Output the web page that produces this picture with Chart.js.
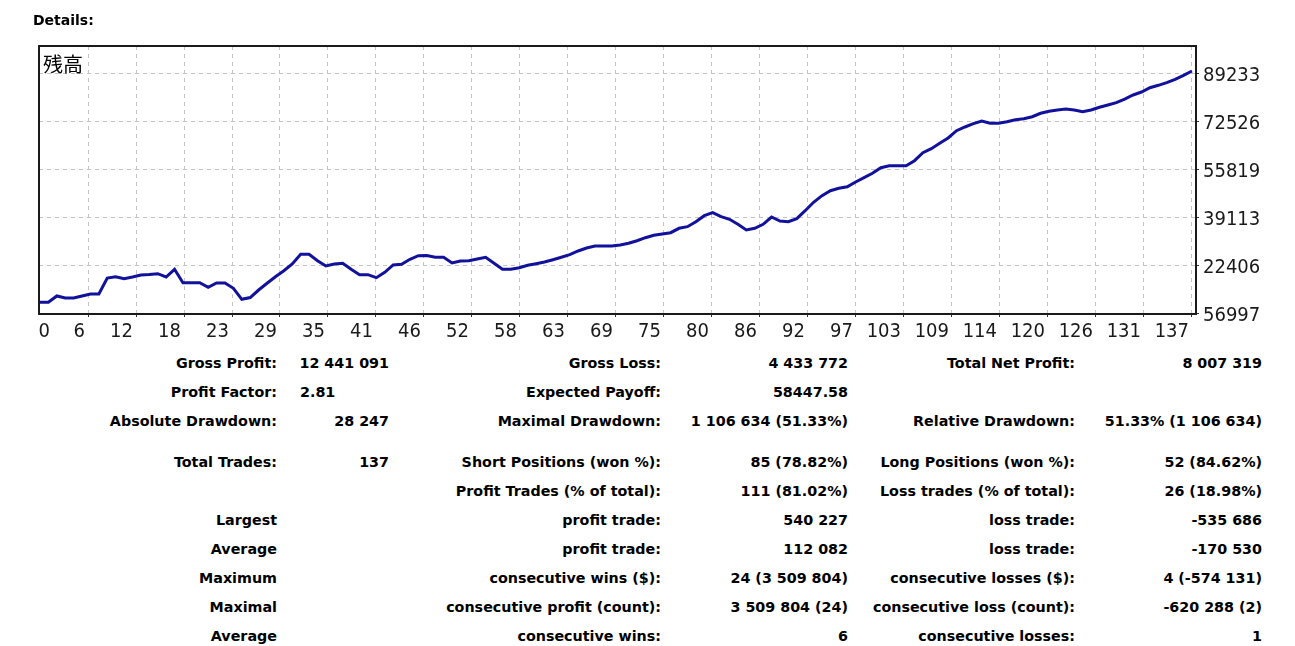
<!DOCTYPE html>
<html>
<head>
<meta charset="utf-8">
<title>Details</title>
<script src="https://cdn.jsdelivr.net/npm/chart.js@4.4.1/dist/chart.umd.min.js"></script>
<style>
  html, body { margin: 0; padding: 0; background: #fff; }
  body {
    width: 1295px; height: 646px; position: relative; overflow: hidden;
    font-family: 'DejaVu Sans', sans-serif;
    font-weight: bold; font-size: 14.3px; color: #000;
  }
  #chartBox { position: absolute; left: 0; top: 0; width: 1295px; height: 345px; }
  #title { position: absolute; left: 33px; top: 10px; line-height: 20px; font-size: 14px; }
  .cell { position: absolute; line-height: 20px; white-space: nowrap; }
</style>
</head>
<body>
<div id="chartBox"><canvas id="balanceChart"></canvas></div>
<div id="title">Details:</div>
<div id="stats"></div>

<script>
// Balance curve data
const seriesName = '残高';
const xLabels = ['0', '6', '12', '18', '23', '29', '35', '41', '46', '52', '58', '63', '69',
    '75', '80', '86', '92', '97', '103', '109', '114', '120', '126', '131', '137'];
const yTickValues = [569970, 2240670, 3911370, 5581970, 7252670, 8923370];
const yLabels = ['56997', '22406', '39113', '55819', '72526', '89233'];
const balance = [
    942000, 942000, 1162000, 1092000, 1092000, 1162000, 1231000, 1231000, 1788000, 1833000,
    1764000, 1823000, 1893000, 1910000, 1938000, 1823000, 2091000, 1625000, 1625000, 1625000,
    1464000, 1614000, 1614000, 1430000, 1047000, 1109000, 1370000, 1604000, 1833000, 2042000,
    2275000, 2613000, 2613000, 2390000, 2206000, 2275000, 2300000, 2091000, 1903000, 1903000,
    1799000, 1987000, 2241000, 2265000, 2439000, 2564000, 2571000, 2509000, 2509000, 2310000,
    2380000, 2390000, 2450000, 2509000, 2300000, 2091000, 2091000, 2147000, 2230000, 2286000,
    2345000, 2425000, 2509000, 2599000, 2728000, 2832000, 2902000, 2902000, 2902000, 2937000,
    2996000, 3086000, 3191000, 3274000, 3320000, 3365000, 3518000, 3574000, 3748000, 3957000,
    4061000, 3922000, 3831000, 3657000, 3459000, 3518000, 3657000, 3911000, 3772000, 3748000,
    3852000, 4131000, 4423000, 4653000, 4827000, 4910000, 4966000, 5130000, 5279000, 5432000,
    5627000, 5697000, 5697000, 5697000, 5871000, 6149000, 6289000, 6477000, 6661000, 6915000,
    7044000, 7159000, 7253000, 7173000, 7173000, 7228000, 7298000, 7333000, 7402000, 7521000,
    7590000, 7636000, 7670000, 7636000, 7577000, 7636000, 7730000, 7810000, 7890000, 8018000,
    8158000, 8262000, 8412000, 8495000, 8586000, 8704000, 8843000, 8993000
];
const lastTrade = 137;

// Report table text
const statRowsY = [363, 392, 421, 462, 491, 520, 549, 578, 607, 636];
const statColsRight = [277, 389, 661, 848, 1075, 1262];
const statRows = [
    ['Gross Profit:', '12 441 091', 'Gross Loss:', '4 433 772', 'Total Net Profit:', '8 007 319'],
    ['Profit Factor:', '2.81', 'Expected Payoff:', '58447.58', '', ''],
    ['Absolute Drawdown:', '28 247', 'Maximal Drawdown:', '1 106 634 (51.33%)', 'Relative Drawdown:', '51.33% (1 106 634)'],
    ['Total Trades:', '137', 'Short Positions (won %):', '85 (78.82%)', 'Long Positions (won %):', '52 (84.62%)'],
    ['', '', 'Profit Trades (% of total):', '111 (81.02%)', 'Loss trades (% of total):', '26 (18.98%)'],
    ['Largest', '', 'profit trade:', '540 227', 'loss trade:', '-535 686'],
    ['Average', '', 'profit trade:', '112 082', 'loss trade:', '-170 530'],
    ['Maximum', '', 'consecutive wins ($):', '24 (3 509 804)', 'consecutive losses ($):', '4 (-574 131)'],
    ['Maximal', '', 'consecutive profit (count):', '3 509 804 (24)', 'consecutive loss (count):', '-620 288 (2)'],
    ['Average', '', 'consecutive wins:', '6', 'consecutive losses:', '1']
];
const leftAlignedCells = { '1-1': 300 };

const axisFont = { family: "'DejaVu Sans Condensed', 'DejaVu Sans', sans-serif", size: 20 };
const gridGray = '#c4c4c4';

// Frame round the plot and the series caption in its corner
const frameAndCaption = {
    id: 'frameAndCaption',
    afterDraw(chart) {
        const { ctx, chartArea: a } = chart;
        ctx.save();
        ctx.strokeStyle = '#1a1a1a';
        ctx.lineWidth = 2;
        ctx.strokeRect(a.left, a.top, a.right - a.left, a.bottom - a.top);
        ctx.fillStyle = '#000';
        ctx.font = '20px "Noto Sans CJK JP"';
        ctx.textBaseline = 'middle';
        ctx.fillText(seriesName, a.left + 4, a.top + 18);
        ctx.restore();
    }
};

new Chart(document.getElementById('balanceChart'), {
    type: 'line',
    data: {
        datasets: [{
            label: seriesName,
            data: balance.map((v, i) => ({ x: i, y: v })),
            borderColor: '#11119c',
            borderWidth: 3,
            pointRadius: 0,
            tension: 0,
            fill: false
        }]
    },
    options: {
        responsive: true,
        maintainAspectRatio: false,
        animation: false,
        layout: { padding: { left: 39, top: 46, right: 0, bottom: 0 } },
        plugins: {
            legend: { display: false },
            tooltip: { enabled: false }
        },
        scales: {
            x: {
                type: 'linear',
                bounds: 'data',
                min: -0.12,
                max: 137.48,
                afterBuildTicks: scale => {
                    // first label sits just inside the frame, the rest end at their grid line
                    scale.ticks = xLabels.map((l, k) => ({ value: k === 0 ? 1.55 : k * lastTrade / 24 }));
                },
                afterFit: scale => { scale.height = 31; },
                ticks: {
                    autoSkip: false,
                    maxRotation: 0,
                    align: 'end',
                    labelOffset: -3,
                    padding: 3,
                    color: '#1a1a1a',
                    font: axisFont,
                    callback: (value, index) => xLabels[index]
                },
                grid: {
                    color: ctx => ctx.index === 0 ? 'rgba(0,0,0,0)' : gridGray,
                    lineWidth: 1,
                    tickLength: 3,
                    tickColor: ctx => ctx.index === 0 ? 'rgba(0,0,0,0)' : '#333'
                },
                border: { display: false, dash: [4, 4] }
            },
            y: {
                position: 'right',
                bounds: 'data',
                min: 535164,
                max: 9863239,
                afterBuildTicks: scale => {
                    scale.ticks = yTickValues.map(v => ({ value: v }));
                },
                afterFit: scale => { scale.width = 99; },
                ticks: {
                    padding: 4,
                    labelOffset: 3,
                    color: '#1a1a1a',
                    font: axisFont,
                    callback: (value, index) => yLabels[index]
                },
                grid: {
                    color: gridGray,
                    lineWidth: 1,
                    tickLength: 3,
                    tickColor: '#333'
                },
                border: { display: false, dash: [4, 4] }
            }
        }
    },
    plugins: [frameAndCaption]
});

// Statistics table under the chart
const stats = document.getElementById('stats');
statRows.forEach((row, r) => {
    row.forEach((text, c) => {
        if (!text) return;
        const cell = document.createElement('div');
        cell.className = 'cell';
        cell.textContent = text;
        cell.style.top = (statRowsY[r] - 10) + 'px';
        const left = leftAlignedCells[r + '-' + c];
        if (left !== undefined) {
            cell.style.left = left + 'px';
        } else {
            cell.style.right = (1295 - statColsRight[c]) + 'px';
        }
        stats.appendChild(cell);
    });
});
</script>
</body>
</html>
